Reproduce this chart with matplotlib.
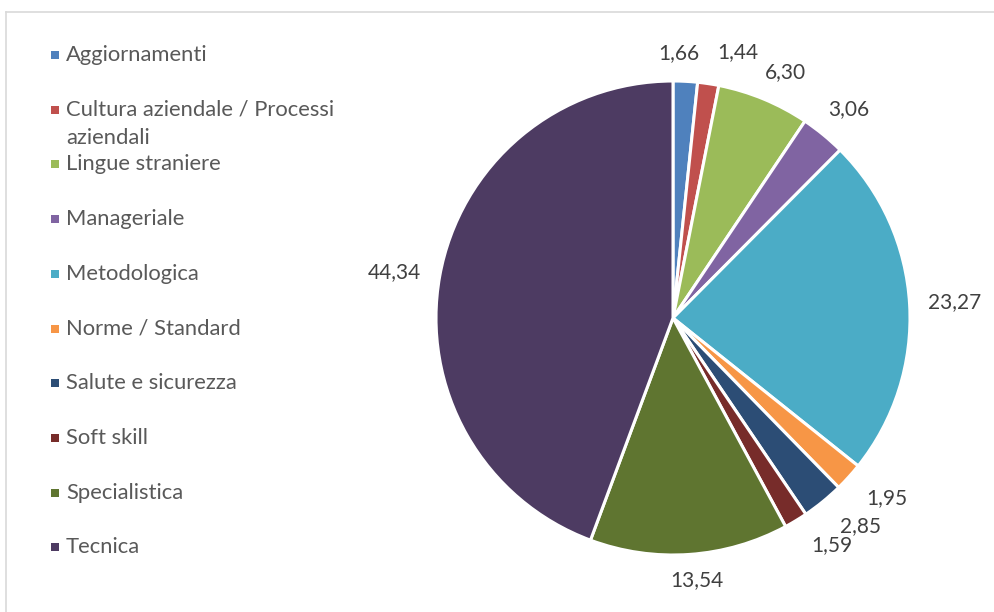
import textwrap
import numpy as np
import matplotlib.pyplot as plt
from matplotlib.patches import Rectangle
from matplotlib.lines import Line2D

# data
categories = ['Aggiornamenti', 'Cultura aziendale / Processi aziendali',
              'Lingue straniere', 'Manageriale', 'Metodologica',
              'Norme / Standard', 'Salute e sicurezza', 'Soft skill',
              'Specialistica', 'Tecnica']
values = [1.66, 1.44, 6.30, 3.06, 23.27, 1.95, 2.85, 1.59, 13.54, 44.34]
colors = ['#4F81BD', '#C0504D', '#9BBB59', '#8064A2', '#4BACC6',
          '#F79646', '#2C4D75', '#772C2A', '#5F7530', '#4D3B62']

# label layout (angle shift in degrees from slice middle, radial distance)
lab_shift = [-1.7, 5.1, 2.0, 0.7, 0.0, -2.0, -2.8, -3.8, -1.2, -0.8]
lab_dist = [1.12, 1.155, 1.14, 1.15, 1.19, 1.18, 1.18, 1.17, 1.11, 1.19]

W, H = 994, 612
fig = plt.figure(figsize=(W / 100, H / 100), dpi=100)
plt.rcParams['font.family'] = ['Lato', 'DejaVu Sans']

# chart frame (only top and left visible)
fig.add_artist(Line2D([6 / W, 6 / W], [0, 1 - 12 / H], transform=fig.transFigure,
                      color='#D9D9D9', lw=1.2))
fig.add_artist(Line2D([6 / W, 1], [1 - 12 / H, 1 - 12 / H], transform=fig.transFigure,
                      color='#D9D9D9', lw=1.2))

cx, cy, r = 673, 318, 237
ax = fig.add_axes([(cx - r) / W, (H - cy - r) / H, 2 * r / W, 2 * r / H])
wedges, _ = ax.pie(values, colors=colors, startangle=90, counterclock=False,
                   wedgeprops=dict(edgecolor='white', linewidth=2.2))
ax.set_xlim(-1, 1)
ax.set_ylim(-1, 1)
ax.set_aspect('equal')
ax.axis('off')

# value labels
for w, v, sh, d in zip(wedges, values, lab_shift, lab_dist):
    mid = (w.theta1 + w.theta2) / 2 - sh
    x = d * np.cos(np.deg2rad(mid))
    y = d * np.sin(np.deg2rad(mid))
    ax.text(x, y, f'{v:.2f}'.replace('.', ','), ha='center', va='center',
            fontsize=15, color='#404040', clip_on=False)

# legend
y0, step, line_h = 55, 54.7, 28
for i, (cat, col) in enumerate(zip(categories, colors)):
    yy = y0 + i * step
    fig.add_artist(Rectangle((51 / W, 1 - (yy + 4) / H), 8 / W, 8 / H,
                             transform=fig.transFigure, color=col, lw=0))
    for k, line in enumerate(textwrap.wrap(cat, 28)):
        fig.text(66 / W, 1 - (yy + k * line_h) / H, line, ha='left', va='center',
                 fontsize=15.8, color='#595959')

fig.savefig('out.png', dpi=100, facecolor='white')
